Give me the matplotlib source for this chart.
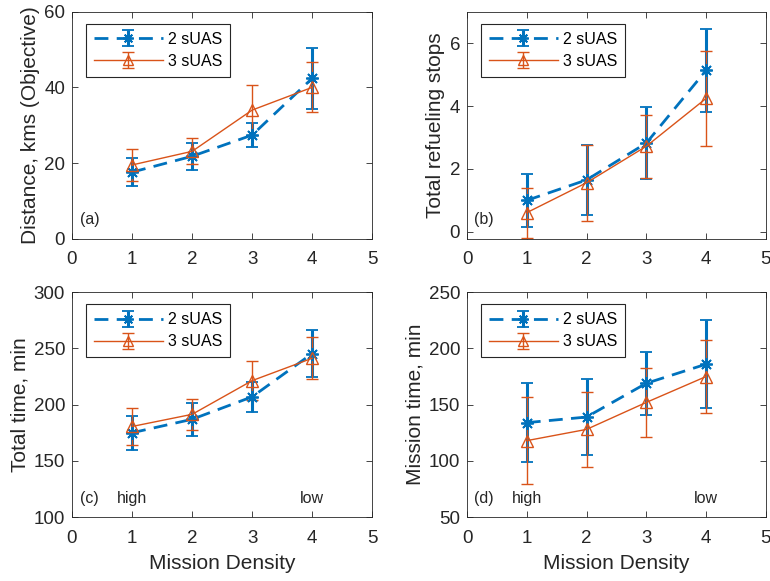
import matplotlib
matplotlib.use('Agg')
import matplotlib.pyplot as plt

plt.rcParams['font.family'] = ['Liberation Sans', 'DejaVu Sans']

BLUE = '#0072BD'
ORANGE = '#D95319'
INK = '#262626'

density = [1, 2, 3, 4]

# (a) distance
dist_2 = [17.6, 21.8, 27.4, 42.4]
dist_2_err = [3.7, 3.5, 3.2, 8.0]
dist_3 = [19.5, 23.1, 34.0, 40.0]
dist_3_err = [4.3, 3.4, 6.7, 6.6]

# (b) refueling stops
stops_2 = [1.0, 1.65, 2.82, 5.13]
stops_2_err = [0.83, 1.1, 1.15, 1.32]
stops_3 = [0.61, 1.56, 2.72, 4.24]
stops_3_err = [0.8, 1.2, 1.0, 1.5]

# (c) total time
total_2 = [175.0, 187.0, 207.0, 245.5]
total_2_err = [15.0, 14.5, 13.5, 21.3]
total_3 = [180.6, 191.4, 221.4, 241.3]
total_3_err = [16.3, 13.8, 17.0, 18.8]

# (d) mission time
mission_2 = [134.0, 139.0, 169.0, 186.0]
mission_2_err = [35.0, 34.0, 28.0, 39.4]
mission_3 = [118.0, 128.0, 152.0, 175.0]
mission_3_err = [38.5, 33.3, 31.0, 32.3]

panels = [
    ([0.0935, 0.589, 0.390, 0.391], dist_2, dist_2_err, dist_3, dist_3_err,
     (0, 60), [0, 20, 40, 60], 'Distance, kms (Objective)', '(a)', False),
    ([0.6065, 0.589, 0.388, 0.391], stops_2, stops_2_err, stops_3, stops_3_err,
     (-0.22, 7.0), [0, 2, 4, 6], 'Total refueling stops', '(b)', False),
    ([0.0935, 0.110, 0.390, 0.387], total_2, total_2_err, total_3, total_3_err,
     (100, 300), [100, 150, 200, 250, 300], 'Total time, min', '(c)', True),
    ([0.6065, 0.110, 0.388, 0.387], mission_2, mission_2_err, mission_3, mission_3_err,
     (50, 250), [50, 100, 150, 200, 250], 'Mission time, min', '(d)', True),
]

fig = plt.figure(figsize=(7.7, 5.81), dpi=100)

for rect, y2, e2, y3, e3, ylim, yticks, ylabel, tag, bottom in panels:
    ax = fig.add_axes(rect)
    ax.errorbar(density, y2, yerr=e2, color=BLUE, linestyle=(0, (5, 3)), linewidth=2,
                marker=(8, 2, 0), markersize=9, markeredgewidth=1.3,
                capsize=4.5, capthick=2.2, elinewidth=2.2, label='2 sUAS')
    ax.errorbar(density, y3, yerr=e3, color=ORANGE, linestyle='-', linewidth=1,
                marker='^', markersize=8, markerfacecolor='none', markeredgewidth=1,
                capsize=4.5, capthick=1, elinewidth=1, label='3 sUAS')
    ax.set_xlim(0, 5)
    ax.set_ylim(*ylim)
    ax.set_xticks([0, 1, 2, 3, 4, 5])
    ax.set_yticks(yticks)
    ax.tick_params(direction='in', top=True, right=True, labelsize=13.5,
                   colors=INK, length=4, width=0.6)
    ax.tick_params(axis='x', pad=9)
    ax.tick_params(axis='y', pad=5)
    for s in ax.spines.values():
        s.set_color(INK)
        s.set_linewidth(0.6)
    ax.set_ylabel(ylabel, fontsize=15, color=INK, labelpad=3)
    if bottom:
        ax.set_xlabel('Mission Density', fontsize=15, color=INK, labelpad=5)
        ax.text(1, 0.05, 'high', transform=ax.get_xaxis_transform(),
                ha='center', va='bottom', fontsize=11.5, color=INK)
        ax.text(4, 0.05, 'low', transform=ax.get_xaxis_transform(),
                ha='center', va='bottom', fontsize=11.5, color=INK)
    ax.text(0.025, 0.05, tag, transform=ax.transAxes, ha='left', va='bottom',
            fontsize=11.5, color=INK)
    leg = ax.legend(loc='upper left', bbox_to_anchor=(0.047, 0.947), borderaxespad=0,
                    fontsize=11.5, fancybox=False, edgecolor=INK, framealpha=1,
                    handlelength=4.3, handletextpad=0.3, borderpad=0.5,
                    labelspacing=0.45, markerscale=0.85)
    leg.get_frame().set_linewidth(0.8)

fig.savefig('out.png', dpi=100)
